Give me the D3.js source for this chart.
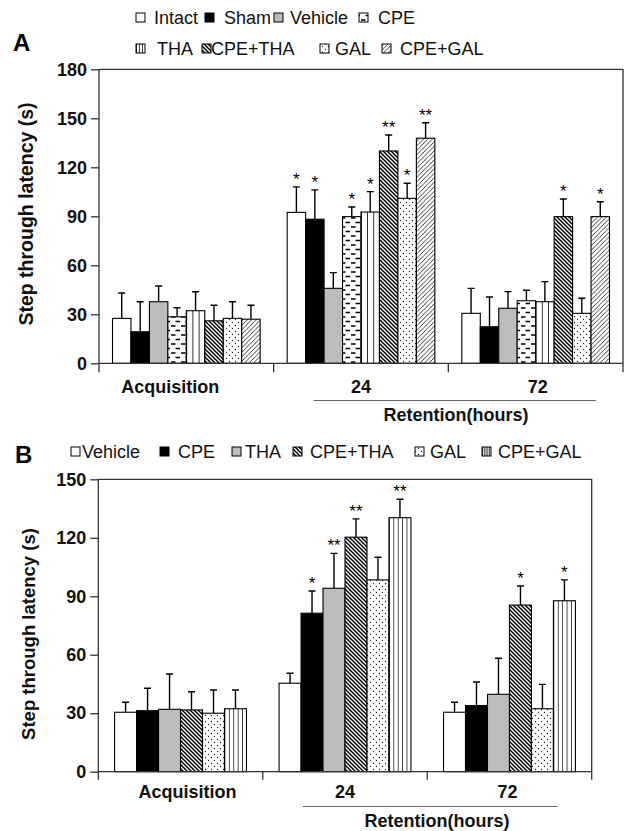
<!DOCTYPE html>
<html><head><meta charset="utf-8">
<script src="https://cdn.jsdelivr.net/npm/d3@7"></script>
<style>
body{margin:0;background:#fff}
svg{display:block;font-family:"Liberation Sans",Arial,Helvetica,sans-serif}
</style>
</head><body>
<svg id="chart" width="627" height="831"></svg>
<script>
// ---------- DATA ----------
const groups = ["Acquisition", "24", "72"];
const retentionLabel = "Retention(hours)";
const yTitle = "Step through latency (s)";

// Panel A
const seriesA = ["Intact", "Sham", "Vehicle", "CPE", "THA", "CPE+THA", "GAL", "CPE+GAL"];
const fillsA  = ["white", "black", "gray", "hdash", "vlines3", "bdiag", "dots", "fdiag"];
const meansA = [
  [27.5, 92.4, 30.6],   // Intact
  [19.3, 88.2, 22.4],   // Sham
  [37.7, 45.9, 33.7],   // Vehicle
  [28.5, 89.8, 38.3],   // CPE
  [32.2, 92.6, 37.7],   // THA
  [26.0, 130.0, 89.8],  // CPE+THA
  [27.5, 101.0, 30.6],  // GAL
  [27.0, 137.8, 89.8]   // CPE+GAL
];
const errsA = [
  [15.5, 15.6, 15.3],
  [18.4, 18.0, 18.2],
  [9.6, 9.6, 10.2],
  [5.5, 5.9, 6.4],
  [11.6, 12.5, 12.3],
  [9.5, 9.8, 10.8],
  [10.2, 9.2, 9.2],
  [8.5, 9.5, 9.1]
];
const starsA = [
  ["", "*", ""], ["", "*", ""], ["", "", ""], ["", "*", ""],
  ["", "*", ""], ["", "**", "*"], ["", "*", ""], ["", "**", "*"]
];
const yTicksA = [0, 30, 60, 90, 120, 150, 180];

// Panel B
const seriesB = ["Vehicle", "CPE", "THA", "CPE+THA", "GAL", "CPE+GAL"];
const fillsB  = ["white", "black", "gray", "bdiag", "dots", "vlines5"];
const meansB = [
  [30.5, 45.4, 30.5],   // Vehicle
  [31.3, 81.3, 33.9],   // CPE
  [32.0, 94.1, 39.7],   // THA
  [31.7, 120.3, 85.5],  // CPE+THA
  [30.0, 98.4, 32.3],   // GAL
  [32.3, 130.3, 87.7]   // CPE+GAL
];
const errsB = [
  [5.1, 5.1, 5.1],
  [11.5, 11.4, 12.1],
  [18.1, 17.9, 18.5],
  [9.3, 9.4, 9.8],
  [11.9, 11.6, 12.5],
  [9.6, 9.5, 10.7]
];
const starsB = [
  ["", "", ""], ["", "*", ""], ["", "**", ""],
  ["", "**", "*"], ["", "", ""], ["", "**", "*"]
];
const yTicksB = [0, 30, 60, 90, 120, 150];

// ---------- LAYOUT ----------
const svg = d3.select("#chart");
const AX = "#333";
const defs = svg.append("defs");

function pat(id, w, h, build, units) {
  const p = defs.append("pattern").attr("id", id)
    .attr("patternUnits", units || "userSpaceOnUse")
    .attr("width", w).attr("height", h);
  p.append("rect").attr("width", 100).attr("height", 100).attr("fill", "white");
  build(p);
}
pat("hdash", 10, 9, p => {
  p.append("path").attr("d", "M1,2H5.5M5.5,6.5H10").attr("stroke", "black").attr("stroke-width", 1.4);
});
pat("vlines3", 1/3, 1, p => {
  p.append("path").attr("d", "M0,0V400").attr("stroke", "black").attr("stroke-width", 1.6);
}, "objectBoundingBox");
pat("vlines5", 1/5, 1, p => {
  p.append("path").attr("d", "M0,0V400").attr("stroke", "black").attr("stroke-width", 1.4);
}, "objectBoundingBox");
pat("bdiag", 4, 4, p => {
  p.append("path").attr("d", "M-1,-1L5,5M-1,3L1,5M3,-1L5,1").attr("stroke", "black").attr("stroke-width", 1.5);
});
pat("fdiag", 4.5, 4.5, p => {
  p.append("path").attr("d", "M-1,5.5L5.5,-1M-1,1L1,-1M3.5,5.5L5.5,3.5").attr("stroke", "#222").attr("stroke-width", 0.9);
});
pat("dots", 6, 6, p => {
  p.append("circle").attr("cx", 1.5).attr("cy", 1.5).attr("r", 0.65).attr("fill", "#222");
  p.append("circle").attr("cx", 4.5).attr("cy", 4.5).attr("r", 0.65).attr("fill", "#222");
});
function fillOf(k) {
  if (k === "white") return "white";
  if (k === "black") return "black";
  if (k === "gray") return "#bdbdbd";
  return "url(#" + k + ")";
}

function drawPanel(cfg) {
  const g = svg.append("g");
  const y = d3.scaleLinear().domain([0, cfg.ymax]).range([cfg.yBottom, cfg.yTop]);
  const x0 = d3.scaleBand().domain(groups).range([cfg.xLeft, cfg.xRight]);
  const x1 = d3.scaleBand().domain(cfg.series)
    .range([cfg.inset, x0.bandwidth() - cfg.inset]);
  const bw = x1.bandwidth();

  // frame: top and right
  g.append("path")
    .attr("d", `M${cfg.xLeft},${cfg.yTop}H${cfg.xRight}V${cfg.yBottom + cfg.tickDown}`)
    .attr("fill", "none").attr("stroke", AX).attr("stroke-width", 1.3);

  // bars
  cfg.series.forEach((s, si) => {
    groups.forEach((gr, gi) => {
      const v = cfg.means[si][gi], e = cfg.errs[si][gi];
      const bx = x0(gr) + x1(s);
      const cx = bx + bw / 2;
      // error bar
      g.append("path")
        .attr("d", `M${cx},${y(v)}V${y(v + e)}M${cx - 3.5},${y(v + e)}H${cx + 3.5}`)
        .attr("stroke", "black").attr("stroke-width", 1.4).attr("fill", "none");
      g.append("rect")
        .attr("x", bx).attr("y", y(v)).attr("width", bw).attr("height", y(0) - y(v))
        .attr("fill", fillOf(cfg.fills[si])).attr("stroke", "black").attr("stroke-width", 1.1);
      const st = cfg.stars[si][gi];
      if (st) {
        g.append("text").attr("x", cx).attr("y", y(v + e) - 2)
          .attr("text-anchor", "middle").attr("font-size", 17).text(st);
      }
    });
  });

  // y axis
  const ya = g.append("g").attr("transform", `translate(${cfg.xLeft},0)`)
    .call(d3.axisLeft(y).tickValues(cfg.ticks).tickSize(8).tickPadding(4).tickSizeOuter(0));
  ya.select(".domain").attr("stroke", AX).attr("stroke-width", 1.3)
    .attr("d", `M0,${cfg.yTop}V${cfg.yBottom + cfg.tickDown}`);
  ya.selectAll(".tick line").attr("stroke", AX).attr("stroke-width", 1.3);
  ya.selectAll(".tick text").attr("font-size", 18).attr("font-weight", "bold")
    .attr("fill", "#111").attr("font-family", "Liberation Sans, Arial, sans-serif");

  // x baseline and group boundary ticks
  g.append("line").attr("x1", cfg.xLeft).attr("x2", cfg.xRight)
    .attr("y1", y(0)).attr("y2", y(0)).attr("stroke", AX).attr("stroke-width", 1.3);
  groups.slice(1).forEach(gr => {
    g.append("line").attr("x1", x0(gr)).attr("x2", x0(gr))
      .attr("y1", y(0)).attr("y2", y(0) + cfg.tickDown).attr("stroke", AX).attr("stroke-width", 1.3);
  });

  // group labels
  groups.forEach((gr, gi) => {
    g.append("text").attr("x", x0(gr) + x0.bandwidth() / 2 + cfg.labelDx[gi])
      .attr("y", cfg.labelY).attr("text-anchor", "middle")
      .attr("font-size", 18).attr("font-weight", "bold").attr("fill", "#111").text(gr);
  });
  // retention line & label
  const rx1 = x0(groups[1]) + cfg.retInset[0];
  const rx2 = x0(groups[2]) + x0.bandwidth() - cfg.retInset[1];
  g.append("line").attr("x1", rx1).attr("x2", rx2).attr("y1", cfg.retLineY).attr("y2", cfg.retLineY)
    .attr("stroke", "#666").attr("stroke-width", 1.2);
  g.append("text").attr("x", cfg.retX).attr("y", cfg.retY).attr("text-anchor", "middle")
    .attr("font-size", 18).attr("font-weight", "bold").attr("fill", "#111").text(retentionLabel);

  // y title
  g.append("text").attr("transform", `translate(${cfg.titleX},${cfg.titleY}) rotate(-90)`)
    .attr("text-anchor", "middle").attr("font-size", cfg.titleSize).attr("font-weight", "bold")
    .attr("fill", "#111").text(yTitle);

  // panel letter
  g.append("text").attr("x", cfg.letterX).attr("y", cfg.letterY)
    .attr("font-size", 24).attr("font-weight", "bold").text(cfg.letter);

  // legend
  cfg.series.forEach((s, si) => {
    const L = cfg.legend[si];
    g.append("rect").attr("x", L[0]).attr("y", L[2] - 11).attr("width", 9).attr("height", 9)
      .attr("fill", fillOf(cfg.fills[si])).attr("stroke", "black").attr("stroke-width", 1);
    g.append("text").attr("x", L[1]).attr("y", L[2]).attr("font-size", 18).attr("fill", "#111").text(s);
  });
}

drawPanel({
  letter: "A", letterX: 13, letterY: 51,
  series: seriesA, fills: fillsA, means: meansA, errs: errsA, stars: starsA, ticks: yTicksA,
  ymax: 180, yTop: 69.3, yBottom: 363.3, xLeft: 99, xRight: 623, inset: 13.5, tickDown: 9,
  labelY: 393, labelDx: [-16, 0, 2],
  retInset: [40, 27], retLineY: 400.5, retX: 456, retY: 421,
  titleX: 33, titleY: 214, titleSize: 19.5,
  legend: [[136, 154, 24], [205, 224, 24], [274, 290, 24], [359, 378, 24],
           [136, 157, 55], [202, 211, 55], [320, 335, 55], [382, 400, 55]]
});
drawPanel({
  letter: "B", letterX: 15, letterY: 463,
  series: seriesB, fills: fillsB, means: meansB, errs: errsB, stars: starsB, ticks: yTicksB,
  ymax: 150, yTop: 479.3, yBottom: 771.7, xLeft: 98.3, xRight: 591.7, inset: 16.3, tickDown: 8,
  labelY: 798, labelDx: [7, 0, -2],
  retInset: [40, 34], retLineY: 806.5, retX: 437, retY: 827,
  titleX: 35, titleY: 634, titleSize: 18.5,
  legend: [[71, 82, 458], [160, 178, 458], [232, 245, 458], [293, 310, 458],
           [415, 430, 458], [482, 498, 458]]
});
</script>
</body></html>
